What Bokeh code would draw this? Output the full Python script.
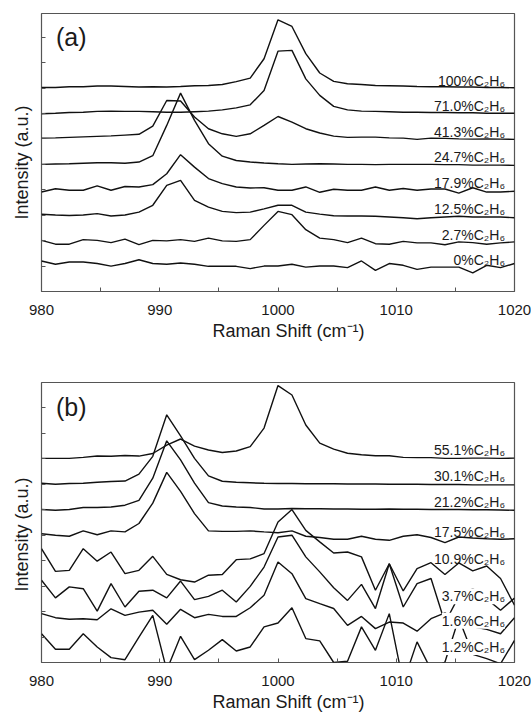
import math
from bokeh.plotting import figure
from bokeh.layouts import column
from bokeh.models import Label, FixedTicker, Title
from bokeh.embed import file_html
from bokeh.resources import INLINE

# ---------------- data ----------------
raman_shift = [980.00, 981.18, 982.35, 983.53, 984.71, 985.88, 987.06, 988.24, 989.41,
               990.59, 991.76, 992.94, 994.12, 995.29, 996.47, 997.65, 998.82, 1000.00,
               1001.18, 1002.35, 1003.53, 1004.71, 1005.88, 1007.06, 1008.24, 1009.41,
               1010.59, 1011.76, 1012.94, 1014.12, 1015.29, 1016.47, 1017.65, 1018.82, 1020.00]

# panel (a) stacked spectra (offset intensities, a.u.)
a_100 = [8.02, 8.02, 8.05, 8.05, 8.08, 8.08, 8.06, 8.04, 8.05, 8.04, 8.06, 8.09, 8.10, 8.14, 8.25, 8.39, 9.15,
         10.68, 10.42, 9.35, 8.59, 8.26, 8.17, 8.14, 8.10, 8.09, 8.08, 8.06, 8.05, 8.05, 8.04, 8.04, 8.02, 8.02, 8.01]
a_71_0 = [6.99, 7.01, 7.04, 7.05, 7.08, 7.09, 7.08, 7.08, 7.07, 7.05, 7.05, 7.07, 7.09, 7.14, 7.22, 7.34, 7.90,
          9.45, 9.48, 8.36, 7.71, 7.28, 7.14, 7.09, 7.08, 7.07, 7.05, 7.05, 7.04, 7.04, 7.03, 7.03, 7.01, 7.01, 7.01]
a_41_3 = [6.03, 6.04, 6.06, 6.08, 6.10, 6.12, 6.15, 6.18, 6.50, 7.51, 7.49, 6.86, 6.40, 6.20, 6.10, 6.20, 6.53,
          6.88, 6.66, 6.40, 6.23, 6.11, 6.06, 6.07, 6.07, 6.04, 6.03, 5.98, 6.03, 6.02, 6.00, 5.99, 6.00, 5.99, 5.98]
a_24_7 = [5.00, 5.01, 5.02, 5.04, 5.06, 5.06, 5.04, 5.09, 5.34, 6.53, 7.80, 6.73, 5.81, 5.32, 5.15, 5.09, 5.05,
          5.02, 5.00, 5.01, 5.02, 5.01, 5.00, 5.00, 4.99, 5.00, 5.00, 5.00, 5.00, 4.99, 4.99, 4.97, 4.97, 4.97, 4.96]
a_17_9 = [3.91, 4.04, 3.98, 3.98, 4.15, 3.98, 4.13, 4.11, 4.20, 4.63, 5.38, 4.89, 4.44, 4.24, 4.11, 4.07, 4.08,
          3.98, 3.98, 4.11, 3.90, 4.02, 3.98, 3.98, 4.11, 3.98, 4.05, 3.98, 4.03, 4.03, 3.87, 4.08, 3.91, 3.91, 3.94]
a_12_5 = [3.04, 3.01, 2.99, 3.01, 3.06, 2.97, 3.01, 3.12, 3.39, 4.17, 4.37, 3.58, 3.32, 3.15, 3.10, 3.12, 3.25,
          3.39, 3.39, 3.12, 3.04, 2.98, 2.97, 2.97, 2.96, 2.93, 2.90, 2.86, 2.90, 2.93, 2.96, 2.93, 2.93, 2.93, 2.90]
a_2_7 = [2.01, 1.86, 1.86, 2.04, 2.01, 1.92, 2.06, 1.84, 2.01, 1.99, 2.04, 1.97, 2.10, 1.99, 1.97, 2.04, 2.60,
         3.15, 3.02, 2.43, 2.10, 2.04, 1.92, 2.10, 1.88, 1.86, 1.97, 1.91, 1.91, 1.84, 1.95, 1.92, 1.86, 1.91, 1.95]
a_0 = [1.20, 1.07, 1.16, 1.16, 1.10, 1.00, 1.10, 1.25, 1.10, 1.07, 1.12, 1.07, 0.99, 0.99, 0.99, 0.90, 1.00,
       1.00, 1.07, 0.96, 1.00, 1.00, 0.94, 1.20, 0.83, 1.10, 1.03, 0.87, 0.96, 0.96, 0.96, 0.73, 1.03, 0.94, 1.10]

# panel (b)
b_55_1 = [8.02, 8.02, 8.02, 8.06, 8.11, 8.10, 8.13, 8.11, 8.21, 8.54, 8.78, 8.50, 8.35, 8.25, 8.31, 8.48, 9.21,
          10.88, 10.51, 9.33, 8.62, 8.38, 8.22, 8.16, 8.12, 8.12, 8.06, 8.05, 8.05, 8.02, 8.02, 8.03, 8.03, 8.02, 8.03]
b_30_1 = [7.04, 7.00, 7.03, 7.04, 7.08, 7.11, 7.13, 7.40, 8.10, 9.73, 8.90, 8.02, 7.33, 7.12, 7.08, 7.06, 7.04,
          7.03, 7.03, 7.02, 7.02, 7.02, 7.01, 7.01, 7.01, 7.00, 7.00, 7.00, 6.99, 6.99, 6.99, 6.98, 6.98, 6.98, 6.98]
b_21_2 = [6.01, 5.98, 6.01, 6.09, 6.09, 6.11, 6.18, 6.37, 7.24, 8.71, 7.96, 7.05, 6.28, 6.15, 6.11, 6.09, 6.03,
          6.03, 6.05, 6.04, 6.04, 6.03, 6.03, 6.02, 6.02, 6.03, 6.02, 6.02, 6.01, 6.01, 6.01, 6.00, 6.00, 5.99, 5.98]
b_17_5 = [5.06, 5.00, 4.96, 5.17, 5.02, 5.17, 5.13, 5.46, 6.26, 7.47, 6.72, 5.85, 5.17, 5.15, 5.15, 5.17, 5.13,
          5.10, 5.17, 4.96, 4.91, 4.84, 4.84, 4.96, 4.84, 4.80, 4.96, 5.02, 4.91, 4.71, 4.93, 4.89, 4.86, 4.84, 4.86]
b_10_9 = [4.47, 3.58, 3.62, 4.47, 3.98, 4.34, 3.49, 3.62, 4.17, 3.46, 3.25, 3.16, 3.43, 3.46, 4.04, 4.07, 4.28,
          5.52, 6.01, 5.19, 4.74, 4.30, 4.34, 4.15, 2.84, 3.88, 2.81, 3.69, 3.92, 3.46, 3.91, 3.60, 3.79, 3.30, 2.25]
b_3_7 = [3.23, 2.54, 2.97, 2.90, 2.02, 3.10, 2.18, 2.80, 2.84, 2.54, 3.20, 2.47, 2.60, 2.84, 2.38, 2.99, 3.75,
         4.93, 5.00, 4.15, 3.56, 2.94, 2.44, 3.07, 2.12, 3.88, 2.18, 3.10, 3.30, 1.56, 2.60, 2.90, 2.50, 2.05, 2.53]
b_1_6 = [1.92, 1.76, 1.70, 1.72, 1.68, 2.11, 1.85, 1.98, 2.05, 1.50, 2.09, 1.76, 1.89, 1.81, 1.81, 2.15, 2.64,
         3.95, 3.49, 2.51, 2.31, 2.12, 1.46, 1.81, 1.33, 1.59, 1.55, 1.23, 1.72, 1.95, 1.60, 1.40, 1.30, 1.13, 1.76]
b_1_2 = [1.13, 0.52, 0.52, 1.13, 0.61, 0.19, 0.11, 1.00, 1.85, -0.30, 1.03, 0.11, 0.48, 0.90, 0.45, 0.61, 1.40,
         1.55, 2.15, 0.94, 0.85, 0.00, 0.05, 1.40, 0.48, 1.92, -0.80, 0.81, -0.28, 0.02, 1.74, 0.32, 0.15, -0.05, 0.87]

names_a = ["100%C₂H₆", "71.0%C₂H₆", "41.3%C₂H₆", "24.7%C₂H₆",
           "17.9%C₂H₆", "12.5%C₂H₆", "2.7%C₂H₆", "0%C₂H₆"]
names_b = ["55.1%C₂H₆", "30.1%C₂H₆", "21.2%C₂H₆", "17.5%C₂H₆",
           "10.9%C₂H₆", "3.7%C₂H₆", "1.6%C₂H₆", "1.2%C₂H₆"]

series_a = [a_100, a_71_0, a_41_3, a_24_7, a_17_9, a_12_5, a_2_7, a_0]
series_b = [b_55_1, b_30_1, b_21_2, b_17_5, b_10_9, b_3_7, b_1_6, b_1_2]

x_major = [980, 990, 1000, 1010, 1020]
x_minor = [985, 995, 1005, 1015]
y_ticks = [1, 2, 3, 4, 5, 6, 7, 8, 9, 10]

# ---------------- layout / style ----------------
FONT = "Liberation Sans"
INK = "#1a1a1a"
FRAME = "#555555"
label_y_a = [8.28, 7.29, 6.28, 5.27, 4.25, 3.24, 2.22, 1.24]
label_y_b = [8.36, 7.31, 6.31, 5.11, 4.08, 2.60, 1.64, 0.61]
label_bg_a = [False] * 8
label_bg_b = [False, False, False, False, False, True, True, True]


def make_panel(tag, series, names, label_y, label_bg, height, top, bottom, ymax,
               xtitle_standoff, ytitle_offset):
    p = figure(width=531, height=height, x_range=(980, 1020), y_range=(0, ymax),
               output_backend="svg", toolbar_location=None,
               min_border_left=41, min_border_right=17,
               min_border_top=top, min_border_bottom=bottom)
    p.grid.visible = False
    p.outline_line_color = FRAME
    p.outline_line_width = 1.2
    p.background_fill_color = "white"
    p.border_fill_color = "white"

    xa = p.xaxis[0]
    xa.ticker = FixedTicker(ticks=x_major, minor_ticks=x_minor)
    xa.axis_line_color = None
    xa.major_tick_in = 4
    xa.major_tick_out = 0
    xa.minor_tick_in = 4
    xa.minor_tick_out = 0
    xa.major_tick_line_color = FRAME
    xa.minor_tick_line_color = FRAME
    xa.major_label_text_font = FONT
    xa.major_label_text_font_size = "15px"
    xa.major_label_text_color = INK
    xa.major_label_standoff = 13

    ya = p.yaxis[0]
    ya.ticker = FixedTicker(ticks=y_ticks)
    ya.axis_line_color = None
    ya.major_tick_in = 4
    ya.major_tick_out = 0
    ya.minor_tick_line_color = None
    ya.major_tick_line_color = FRAME
    ya.major_label_text_font_size = "1px"
    ya.major_label_text_color = None
    ya.major_label_standoff = 0

    for ys in series:
        p.line(raman_shift, ys, line_color="#111111", line_width=1.4)

    for name, ly, bg in zip(names, label_y, label_bg):
        p.add_layout(Label(x=1019.2, y=ly, text=name, text_align="right",
                           text_baseline="alphabetic", text_font=FONT,
                           text_font_size="14px", text_color=INK,
                           background_fill_color="white" if bg else None))

    p.add_layout(Label(x=981.22, y=10.02, text=tag, text_align="left",
                       text_baseline="alphabetic", text_font=FONT,
                       text_font_size="25px", text_color=INK))

    p.add_layout(Title(text="Raman Shift (cm⁻¹)", align="left", offset=171,
                       standoff=xtitle_standoff, text_font=FONT, text_font_size="18px",
                       text_font_style="normal", text_color=INK), "below")
    p.add_layout(Title(text="Intensity (a.u.)", align="left", offset=ytitle_offset,
                       vertical_align="top", standoff=16, text_font=FONT,
                       text_font_size="18px", text_font_style="normal",
                       text_color=INK), "left")
    return p


# panel (a): frame 13..291 ; panel (b): frame 382..662 ; identical bottom bands
pa = make_panel("(a)", series_a, names_a, label_y_a, label_bg_a, 345, 13, 54, 10.93, 3, 72)
pb = make_panel("(b)", series_b, names_b, label_y_b, label_bg_b, 371, 37, 54, 11.0, 3, 71)

layout = column(pa, pb, spacing=0)
open("out.html", "w").write(file_html(layout, INLINE))
